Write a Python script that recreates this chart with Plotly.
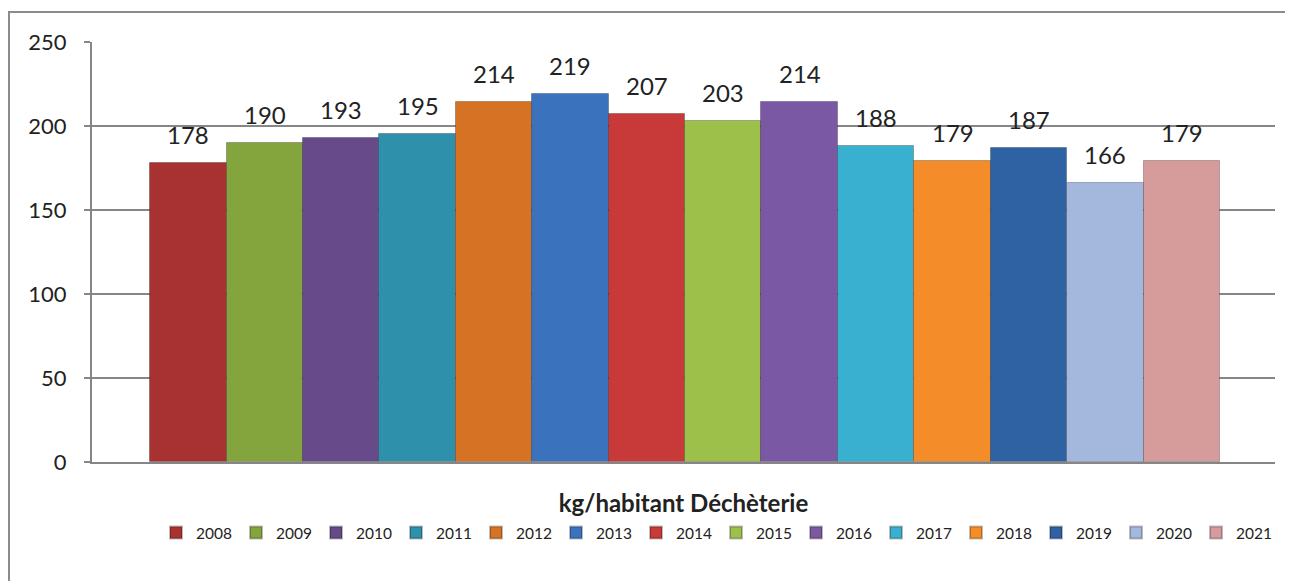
import plotly.graph_objects as go

category = "kg/habitant Déchèterie"
years = [2008, 2009, 2010, 2011, 2012, 2013, 2014,
         2015, 2016, 2017, 2018, 2019, 2020, 2021]
values = [178, 190, 193, 195, 214, 219, 207, 203, 214, 188, 179, 187, 166, 179]
colors = ["#A83232", "#84A43E", "#664A8A", "#2E90AA", "#D67224", "#3B72BE",
          "#C83A3A", "#9CC04A", "#7B58A4", "#3AB0D0", "#F58C2A", "#2E62A2",
          "#A4B8DE", "#D69C9C"]
y_ticks = [0, 50, 100, 150, 200, 250]

FONT = "Lato, 'Open Sans', sans-serif"
# the page body has an 8px default margin, so the figure is drawn at (8, 8)
W, H = 1285, 573
ML, MR, MT, MB = 84, 18, 34, 119
PW, PH = W - ML - MR, H - MT - MB

fig = go.Figure()
for yr, v, c in zip(years, values, colors):
    fig.add_trace(go.Bar(
        x=[yr], y=[v], name=str(yr), width=1,
        marker=dict(color=c, line=dict(color="rgba(0,0,0,0.25)", width=1)),
    ))

annotations = [
    dict(x=yr, y=v, xref="x", yref="y", text=str(v), showarrow=False,
         yanchor="bottom", yshift=12,
         font=dict(family=FONT, size=24, color="#222222"))
    for yr, v in zip(years, values)
]

fig.update_layout(
    width=W, height=H,
    margin=dict(l=ML, r=MR, t=MT, b=MB),
    paper_bgcolor="white", plot_bgcolor="white",
    barmode="overlay", bargap=0,
    font=dict(family=FONT, color="#222222"),
    showlegend=True,
    legend=dict(orientation="h", x=(1268 - ML) / PW, xanchor="right",
                y=(MT + PH - 525) / PH, yanchor="middle",
                bgcolor="rgba(0,0,0,0)",
                font=dict(family=FONT, size=15.5, color="#222222"),
                entrywidth=35, entrywidthmode="pixels", itemsizing="constant",
                traceorder="normal"),
    annotations=annotations,
    shapes=[dict(type="rect", xref="paper", yref="paper",
                 x0=(1 - ML) / PW, x1=(1300 - ML) / PW,
                 y0=(MT + PH - 600) / PH, y1=(MT + PH - 4) / PH,
                 line=dict(color="#8C8C8C", width=2), fillcolor="rgba(0,0,0,0)",
                 layer="below")],
)

fig.update_yaxes(
    range=[0, 250], tickvals=y_ticks, ticks="outside", ticklen=6,
    tickcolor="#868686", tickwidth=2,
    showgrid=True, gridcolor="#868686", gridwidth=2,
    showline=True, linecolor="#868686", linewidth=2,
    zeroline=False,
    tickfont=dict(family=FONT, size=22, color="#222222"),
    ticklabelstandoff=13,
)
fig.update_xaxes(
    range=[years[0] - 1.26, years[-1] + 1.22],
    showticklabels=False, showgrid=False, zeroline=False,
    showline=True, linecolor="#868686", linewidth=2,
    title=dict(text="<b>" + category + "</b>", standoff=32,
               font=dict(family=FONT, size=24, color="#222222")),
)

fig.write_html("out.html")
